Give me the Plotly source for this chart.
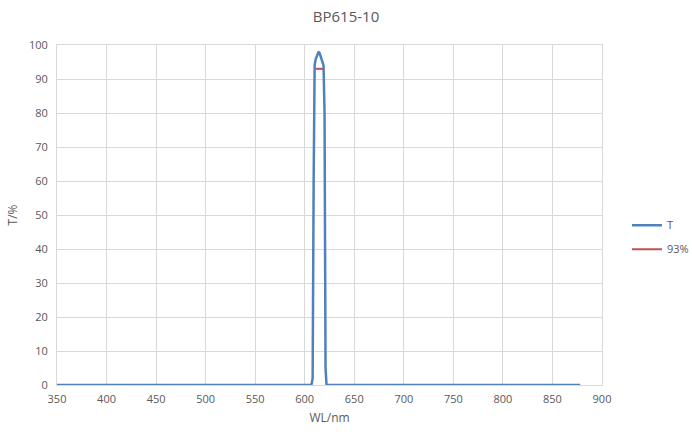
import plotly.graph_objects as go

# ── Data ──────────────────────────────────────────────────────────────────────
wavelength = [350, 450, 550, 600, 606, 607, 608, 609, 610, 611, 612, 613, 614,
              615, 616, 617, 618, 619, 620, 621, 622, 700, 800, 878]
transmission = [0, 0, 0, 0, 0, 0.3, 2, 60, 94, 95.8, 96.6, 97.3, 98,
                97.6, 96.6, 95.7, 95.0, 94.0, 80, 5, 0, 0, 0, 0]

ref_wl = [611, 618.5]
ref_t = [93, 93]

x_ticks = [350, 400, 450, 500, 550, 600, 650, 700, 750, 800, 850, 900]
y_ticks = [0, 10, 20, 30, 40, 50, 60, 70, 80, 90, 100]

_FONT = "'Open Sans', 'Liberation Sans', sans-serif"
_TXT = "#595959"
_GRID = "#d9d9d9"

fig = go.Figure()
fig.add_trace(go.Scatter(
    x=wavelength, y=transmission, mode="lines", name="T",
    line=dict(color="#4f81bd", width=2.5), legendgroup="t",
))
fig.add_trace(go.Scatter(
    x=ref_wl, y=ref_t, mode="lines", name="93%",
    line=dict(color="#c0504d", width=2), legendgroup="r",
))

fig.update_layout(
    width=692, height=436,
    paper_bgcolor="#ffffff", plot_bgcolor="#ffffff",
    margin=dict(l=57, r=90, t=45, b=51),
    font=dict(family=_FONT, color=_TXT, size=11),
    title=dict(text="BP615-10", x=0.5, xanchor="center", y=0.962, yanchor="middle",
               font=dict(size=15, color=_TXT)),
    legend=dict(xref="container", yref="container", x=0.906, y=0.456,
                xanchor="left", yanchor="middle",
                traceorder="grouped", tracegroupgap=5, itemwidth=30,
                font=dict(size=11, color=_TXT), bgcolor="rgba(0,0,0,0)"),
    xaxis=dict(
        range=[350, 900], tickvals=x_ticks, showgrid=True, gridcolor=_GRID,
        zeroline=False, showline=True, linecolor=_GRID, mirror=True,
        ticks="", ticklabelstandoff=4, tickfont=dict(size=11, color=_TXT),
        title=dict(text="WL/nm", font=dict(size=12, color=_TXT), standoff=8),
    ),
    yaxis=dict(
        range=[0, 100], tickvals=y_ticks, showgrid=True, gridcolor=_GRID,
        zeroline=False, showline=True, linecolor=_GRID, mirror=True,
        ticks="", ticklabelstandoff=6, tickfont=dict(size=11, color=_TXT),
        title=dict(text="T/%", font=dict(size=12, color=_TXT), standoff=8),
    ),
)

fig.write_html("out.html", config={"displayModeBar": False},
               post_script="document.body.style.margin='0px';")
